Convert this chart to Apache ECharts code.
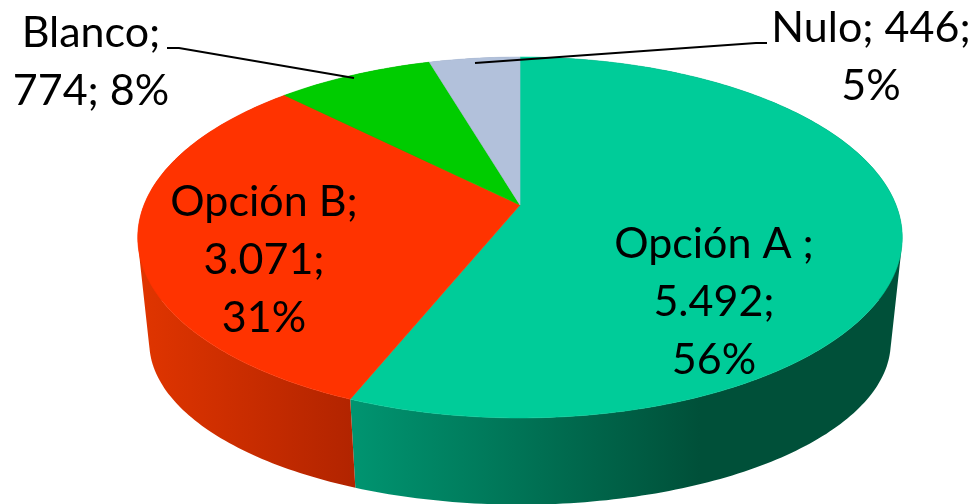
<!DOCTYPE html>
<html>
<head>
<meta charset="utf-8">
<style>
  html, body { margin: 0; padding: 0; background: #fff; }
  #chart { width: 975px; height: 504px; }
</style>
<script src="https://cdn.jsdelivr.net/npm/echarts@6/dist/echarts.min.js"></script>
</head>
<body>
<div id="chart"></div>
<script>
// values, clockwise from 12 o'clock
const categories = ['Opción A ', 'Opción B', 'Blanco', 'Nulo'];
const values = [5492, 3071, 774, 446];
const valueLabels = ['5.492', '3.071', '774', '446'];
const percentLabels = ['56%', '31%', '8%', '5%'];
const topColors = ['#00CC99', '#FF3300', '#00CC00', '#B2C1DB'];

// side wall shading, left to right
const wallStops = [
  { x0: 355, x1: 700, from: '#009470', to: '#005039' },
  { x0: 140, x1: 352, from: '#E03500', to: '#B22400' },
  { x0: 290, x1: 430, from: '#009000', to: '#006000' },
  { x0: 430, x1: 520, from: '#8090A8', to: '#707F96' },
];

// how each label is broken into lines, and where it sits
const labelLines = [
  (c, v, p) => [c + ';', v + ';', p],
  (c, v, p) => [c + ';', v + ';', p],
  (c, v, p) => [c + ';', v + '; ' + p],
  (c, v, p) => [c + '; ' + v + ';', p],
];
const labelPos = [[714, 244], [264, 202], [91, 33], [871, 28]];
const lineHeight = 58;

// perspective disc: apex of the slices, radii, tilt
const cx = 520;
const cy = 205;
const radiusX = 376;
const radiusY = 174.6;
const tilt = 0.18;
// lower rim of the wall
const rimScaleX = 0.97;
const rimScaleY = 0.9;
const depth = 108;

const total = values.reduce((a, b) => a + b, 0);
const starts = [];
values.reduce((acc, v, i) => {
  starts[i] = acc;
  return acc + v;
}, 0);

function angleOf(sum) {
  return (sum / total) * Math.PI * 2;
}

function rimPoint(t) {
  const u = Math.sin(t);
  const v = Math.cos(t);
  const w = 1 + tilt * v;
  return [(radiusX * u) / w, (-radiusY * v) / w];
}

function sliceRim(i) {
  const a0 = angleOf(starts[i]);
  const a1 = angleOf(starts[i] + values[i]);
  const steps = Math.max(8, Math.ceil((a1 - a0) * 60));
  const pts = [];
  for (let k = 0; k <= steps; k++) {
    pts.push(rimPoint(a0 + ((a1 - a0) * k) / steps));
  }
  return pts;
}

// triangle as a subpath, always wound the same way so the union has no holes
function triPath(a, b, c) {
  const area = (b[0] - a[0]) * (c[1] - a[1]) - (b[1] - a[1]) * (c[0] - a[0]);
  const t = area < 0 ? [a, c, b] : [a, b, c];
  return 'M' + t.map((p) => p[0].toFixed(2) + ' ' + p[1].toFixed(2)).join('L') + 'Z';
}

function renderWall(params) {
  const i = params.dataIndex;
  const rim = sliceRim(i);
  const upper = rim.map((p) => [cx + p[0], cy + p[1]]);
  const lower = rim.map((p) => [cx + p[0] * rimScaleX, cy + p[1] * rimScaleY + depth]);
  let d = '';
  for (let k = 0; k < rim.length - 1; k++) {
    d += triPath(upper[k], upper[k + 1], lower[k + 1]);
    d += triPath(upper[k], lower[k + 1], lower[k]);
  }
  const s = wallStops[i];
  return {
    type: 'path',
    shape: { pathData: d },
    style: {
      fill: new echarts.graphic.LinearGradient(s.x0, 0, s.x1, 0, [
        { offset: 0, color: s.from },
        { offset: 1, color: s.to },
      ], true),
    },
  };
}

function renderTop(params) {
  const i = params.dataIndex;
  const pts = sliceRim(i).map((p) => [cx + p[0], cy + p[1]]);
  pts.push([cx, cy]);
  return {
    type: 'polygon',
    shape: { points: pts },
    // thin stroke closes the hairline between neighbouring slices
    style: { fill: topColors[i], stroke: topColors[i], lineWidth: 0.6 },
  };
}

function renderLabel(params) {
  const i = params.dataIndex;
  const lines = labelLines[i](categories[i], valueLabels[i], percentLabels[i]);
  return {
    type: 'group',
    children: lines.map((text, n) => ({
      type: 'text',
      style: {
        text,
        x: labelPos[i][0],
        y: labelPos[i][1] + n * lineHeight,
        align: 'center',
        verticalAlign: 'middle',
        font: '43px Lato',
        fill: '#000',
      },
    })),
  };
}

const seriesData = categories.map((name, i) => ({ name, value: values[i] }));

const chart = echarts.init(document.getElementById('chart'));
chart.setOption({
  backgroundColor: '#fff',
  animation: false,
  series: [
    { type: 'custom', coordinateSystem: 'none', z: 1, silent: true, renderItem: renderWall, data: seriesData },
    { type: 'custom', coordinateSystem: 'none', z: 2, silent: true, renderItem: renderTop, data: seriesData },
    { type: 'custom', coordinateSystem: 'none', z: 4, silent: true, renderItem: renderLabel, data: seriesData },
  ],
  graphic: [
    {
      type: 'polyline',
      z: 3,
      silent: true,
      shape: { points: [[167, 48], [179, 48], [354, 78]] },
      style: { stroke: '#000', lineWidth: 2, fill: 'none' },
    },
    {
      type: 'polyline',
      z: 3,
      silent: true,
      shape: { points: [[767, 43], [756, 43], [475, 63]] },
      style: { stroke: '#000', lineWidth: 2, fill: 'none' },
    },
  ],
});
</script>
</body>
</html>
